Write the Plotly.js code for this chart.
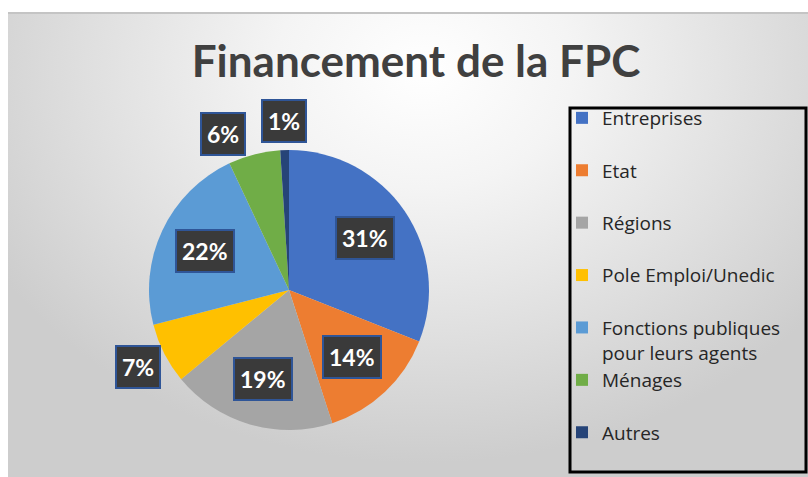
<!DOCTYPE html>
<html>
<head>
<meta charset="utf-8">
<script src="https://cdn.plot.ly/plotly-3.0.1.min.js"></script>
<style>
  html, body { margin: 0; padding: 0; background: #ffffff; }
  #wrap { position: relative; width: 808px; height: 477px; overflow: hidden; }
  #bg { position: absolute; left: 8px; top: 12px; right: 0; bottom: 0;
        border-top: 2px solid #c4c4c4;
        background: radial-gradient(ellipse 62% 85% at 52% 12%, #ffffff 0%, #f4f4f4 30%, #dedede 70%, #cdcdcd 100%); }
  #chart { position: absolute; left: 0; top: 0; width: 808px; height: 477px; }
</style>
</head>
<body>
<div id="wrap"><div id="bg"></div><div id="chart"></div></div>
<script>
// ---- data ----
const categories = ['Entreprises', 'Etat', 'Régions', 'Pole Emploi/Unedic',
                    'Fonctions publiques<br>pour leurs agents', 'Ménages', 'Autres'];
const shares = [31, 14, 19, 7, 22, 6, 1];
const sliceColors = ['#4472C4', '#ED7D31', '#A5A5A5', '#FFC000', '#5B9BD5', '#70AD47', '#264478'];
const chartTitle = 'Financement de la FPC';

// ---- layout constants ----
const W = 808, H = 477;
const cxPx = 289, cyPx = 290, rPx = 140;
const FONT = 'Lato, "Open Sans", sans-serif';
const LEGEND_FONT = '"Open Sans", Lato, sans-serif';

// legend labels: single-line entries padded with a blank line to mimic Excel spacing
const legendLabels = categories.map(c => c.includes('<br>') ? c : c + '<br> ');

const pie = {
  type: 'pie',
  labels: legendLabels,
  values: shares,
  sort: false,
  direction: 'clockwise',
  rotation: 0,
  marker: { colors: sliceColors, line: { width: 0 } },
  textinfo: 'none',
  hoverinfo: 'label+percent',
  domain: { x: [(cxPx - rPx) / W, (cxPx + rPx) / W],
            y: [(H - cyPx - rPx) / H, (H - cyPx + rPx) / H] },
  showlegend: true
};

// ---- data labels computed from slice geometry ----
const total = shares.reduce((a, b) => a + b, 0);
let cum = 0;
const labelInfo = shares.map(v => {
  const mid = (cum + v / 2) / total * 360;
  cum += v;
  const pct = Math.round(v / total * 100);
  return { mid, pct, outside: v / total < 0.08 };
});
// resolve collisions of outside labels (push earlier one back)
for (let i = labelInfo.length - 1; i > 0; i--) {
  const a = labelInfo[i - 1], b = labelInfo[i];
  if (a.outside && b.outside && b.mid - a.mid < 21) a.mid = b.mid - 21;
}
const annotations = labelInfo.map(l => {
  const f = l.outside ? 1.21 : 0.66;
  const t = l.mid * Math.PI / 180;
  const px = cxPx + f * rPx * Math.sin(t);
  const py = cyPx - f * rPx * Math.cos(t);
  return {
    xref: 'paper', yref: 'paper', x: px / W, y: 1 - py / H,
    xanchor: 'center', yanchor: 'middle', showarrow: false,
    text: '<b>' + l.pct + '%</b>',
    font: { family: FONT, size: 23, color: '#ffffff' },
    bgcolor: '#3a3a3a', bordercolor: '#2F5597', borderwidth: 2, borderpad: 5,
    height: 30
  };
});

const layout = {
  width: W, height: H,
  margin: { l: 0, r: 0, t: 0, b: 0, autoexpand: false },
  paper_bgcolor: 'rgba(0,0,0,0)',
  plot_bgcolor: 'rgba(0,0,0,0)',
  title: { text: '<b>' + chartTitle + '</b>', x: 416 / W, xanchor: 'center',
           y: 1 - 62 / H, yanchor: 'middle',
           font: { family: FONT, size: 44, color: '#404040' } },
  legend: { x: 562 / W, y: 1 - 99 / H, xanchor: 'left', yanchor: 'top',
            bgcolor: 'rgba(0,0,0,0)', borderwidth: 0, valign: 'top',
            font: { family: LEGEND_FONT, size: 19, color: '#262626' },
            itemclick: false, itemdoubleclick: false },
  shapes: [{ type: 'rect', xref: 'paper', yref: 'paper',
             x0: 570 / W, x1: 806 / W, y0: 1 - 472 / H, y1: 1 - 108 / H,
             line: { color: '#000000', width: 3 } }],
  annotations: annotations,
  showlegend: true
};

Plotly.newPlot('chart', [pie], layout, { displayModeBar: false, staticPlot: true });
</script>
</body>
</html>
